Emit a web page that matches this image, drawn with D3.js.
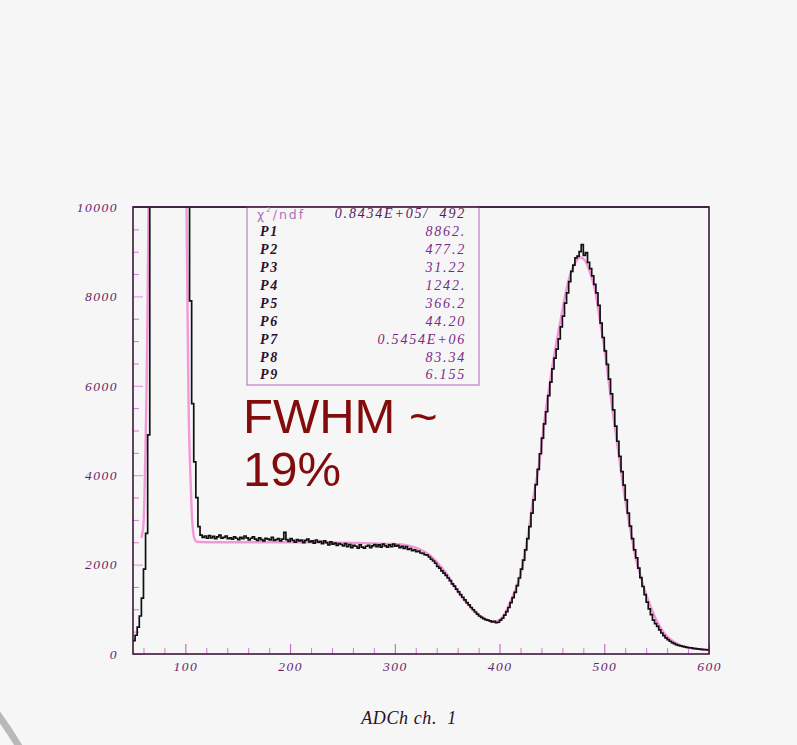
<!DOCTYPE html>
<html>
<head>
<meta charset="utf-8">
<script src="https://cdn.jsdelivr.net/npm/d3@7"></script>
<style>
  body { margin: 0; background: #f6f6f6; }
  svg { display: block; }
</style>
</head>
<body>
<script>
// histogram: 2-channel bins starting at 50, counts (off-scale bins set high, clipped)
const binStart = 50, binWidth = 2;
const counts = [
  300, 420, 600, 850, 1250, 1900, 2700, 4900, 20000, 20000,
  20000, 20000, 20000, 20000, 20000, 20000, 20000, 20000, 20000, 20000,
  20000, 20000, 20000, 20000, 20000, 20000, 20000, 7900, 5600, 4300,
  3500, 2850, 2660, 2610, 2640, 2590, 2650, 2600, 2630, 2580,
  2620, 2660, 2590, 2610, 2640, 2580, 2600, 2570, 2620, 2590,
  2560, 2610, 2580, 2640, 2600, 2550, 2590, 2620, 2570, 2540,
  2600, 2560, 2530, 2590, 2570, 2550, 2610, 2540, 2560, 2580,
  2530, 2570, 2720, 2560, 2520, 2580, 2540, 2500, 2560, 2530,
  2550, 2490, 2540, 2570, 2510, 2530, 2480, 2550, 2500, 2520,
  2470, 2530, 2490, 2440, 2510, 2460, 2480, 2430, 2470, 2450,
  2420, 2470, 2400, 2450, 2380, 2430, 2410, 2370, 2440, 2390,
  2370, 2410, 2430, 2380, 2420, 2450, 2400, 2440, 2390, 2460,
  2420, 2390, 2440, 2400, 2460, 2410, 2430, 2380, 2410, 2360,
  2400, 2340, 2360, 2310, 2330, 2290, 2300, 2260, 2250, 2220,
  2210, 2170, 2120, 2080, 2030, 1960, 1920, 1860, 1810, 1760,
  1700, 1640, 1570, 1520, 1450, 1390, 1330, 1270, 1210, 1150,
  1100, 1040, 990, 940, 890, 850, 820, 790, 770, 760,
  740, 720, 730, 700, 710, 760, 800, 870, 950, 1040,
  1150, 1260, 1380, 1530, 1700, 1900, 2100, 2330, 2580, 2850,
  3150, 3450, 3790, 4130, 4480, 4830, 5150, 5420, 5780, 6080,
  6380, 6620, 6820, 7050, 7320, 7560, 7850, 8080, 8330, 8560,
  8700, 8860, 8900, 9000, 9160, 8920, 8980, 8760, 8620, 8460,
  8270, 8080, 7800, 7400, 7080, 6780, 6480, 6150, 5820, 5460,
  5100, 4760, 4420, 4080, 3780, 3450, 3150, 2860, 2580, 2330,
  2150, 1920, 1710, 1510, 1330, 1160, 1010, 880, 760, 680,
  620, 540, 470, 410, 360, 320, 285, 255, 230, 210,
  195, 180, 170, 160, 150, 140, 135, 125, 120, 115,
  110, 105, 100, 95, 90
];

// fit curve (null = gap where it is off scale)
const fitChan = [58, 60, 61, 62, 63, 64, 65, 66, null,
  100, 101, 102, 103, 104.5, 106, 107.6, 109, 111, 120, 200, 240, 270, 300, 315, 325, 334, 343, 350, 356,
  362, 372, 381, 388, 394, 400, 405, 410, 415, 420, 426, 432, 439, 443, 448, 453, 458, 462, 467, 472,
  477, 482, 486, 491, 496, 501, 505, 510, 515, 520, 525, 530, 534, 539, 544, 549, 553, 558, 563, 568,
  572, 582, 591, 600];
const fitVal = [2600, 2900, 3600, 4700, 6000, 8000, 10500, 14000, null,
  14000, 10300, 7900, 5700, 4200, 3220, 2700, 2560, 2510, 2500, 2500, 2495, 2480, 2460, 2410, 2330, 2200, 1980, 1780, 1550,
  1330, 1060, 850, 760, 720, 760, 900, 1150, 1420, 1780, 2480, 3450, 4450, 5250, 6050, 6800, 7430, 7950, 8450, 8750,
  8870, 8790, 8560, 8150, 7450, 6700, 5950, 5100, 4250, 3450, 2780, 2150, 1800, 1400, 1080, 800, 620, 450, 330, 250,
  200, 140, 110, 95];

const xMajor = [100, 200, 300, 400, 500, 600];
const yMajor = [0, 2000, 4000, 6000, 8000, 10000];

const statNames = ["P1", "P2", "P3", "P4", "P5", "P6", "P7", "P8", "P9"];
const statValues = ["8862.", "477.2", "31.22", "1242.", "366.2", "44.20", "0.5454E+06", "83.34", "6.155"];

const W = 797, H = 745;
const svg = d3.select("body").append("svg").attr("width", W).attr("height", H);

const x = d3.scaleLinear().domain([50, 600]).range([133, 709]);
const y = d3.scaleLinear().domain([0, 10000]).range([654, 207]);

const serif = "'Liberation Serif', 'DejaVu Serif', serif";
const tickCol = "#d47ad4";

svg.append("defs").append("clipPath").attr("id", "plot")
  .append("rect").attr("x", 133).attr("y", 207).attr("width", 576).attr("height", 447);

// grey arc in the corner of the slide
svg.append("path")
  .attr("d", "M -4 712 Q 8 728 20 748")
  .attr("fill", "none").attr("stroke", "#b9b9b9").attr("stroke-width", 7);

// minor ticks
const xMinorAxis = d3.axisBottom(x)
  .tickValues(d3.range(60, 600, 20).filter(d => d % 100 !== 0))
  .tickSize(-6).tickFormat("");
svg.append("g").attr("transform", "translate(0,654)").call(xMinorAxis)
  .call(g => g.select(".domain").remove())
  .selectAll("line").attr("stroke", tickCol);

const yMinorAxis = d3.axisLeft(y)
  .tickValues(d3.range(500, 10000, 500).filter(d => d % 2000 !== 0))
  .tickSize(-6).tickFormat("");
svg.append("g").attr("transform", "translate(133,0)").call(yMinorAxis)
  .call(g => g.select(".domain").remove())
  .selectAll("line").attr("stroke", tickCol);

// major ticks with labels
const xAxis = d3.axisBottom(x).tickValues(xMajor).tickSize(-10).tickPadding(7).tickFormat(d3.format("d"));
svg.append("g").attr("transform", "translate(0,654)").call(xAxis)
  .call(g => g.select(".domain").remove())
  .call(g => g.selectAll("line").attr("stroke", "#b85cb8"))
  .call(g => g.selectAll("text")
    .attr("font-family", serif).attr("font-style", "italic")
    .attr("font-size", 13.5).attr("letter-spacing", 1.5).attr("fill", "#6a1f6a"));

const yAxis = d3.axisLeft(y).tickValues(yMajor).tickSize(-10).tickPadding(15).tickFormat(d3.format("d"));
svg.append("g").attr("transform", "translate(133,0)").call(yAxis)
  .call(g => g.select(".domain").remove())
  .call(g => g.selectAll("line").attr("stroke", "#e08ae0"))
  .call(g => g.selectAll("text")
    .attr("font-family", serif).attr("font-style", "italic")
    .attr("font-size", 13.5).attr("letter-spacing", 1.5).attr("fill", "#6a1f6a"));

// fit curve
const fitPts = fitChan.map((c, i) => [c, fitVal[i]]);
const fitLine = d3.line()
  .defined(d => d[0] !== null)
  .x(d => x(d[0])).y(d => y(d[1]))
  .curve(d3.curveMonotoneX);
svg.append("path")
  .attr("clip-path", "url(#plot)")
  .attr("d", fitLine(fitPts))
  .attr("fill", "none").attr("stroke", "#f497d8").attr("stroke-width", 2.4);

// histogram, drawn as steps
const histPts = counts.map((c, i) => [binStart + i * binWidth, c]);
histPts.push([binStart + counts.length * binWidth, counts[counts.length - 1]]);
const histLine = d3.line()
  .x(d => x(d[0])).y(d => y(d[1]))
  .curve(d3.curveStepAfter);
svg.append("path")
  .attr("clip-path", "url(#plot)")
  .attr("d", histLine(histPts))
  .attr("fill", "none").attr("stroke", "#111").attr("stroke-width", 1.7);

// frame
svg.append("rect")
  .attr("x", 133).attr("y", 207).attr("width", 576).attr("height", 447)
  .attr("fill", "none").attr("stroke", "#3a1a3a").attr("stroke-width", 1.6);

// stats box
svg.append("rect")
  .attr("x", 247).attr("y", 207).attr("width", 232).attr("height", 178)
  .attr("fill", "#f6f6f6").attr("stroke", "#c585cc").attr("stroke-width", 1.3);
svg.append("line")
  .attr("x1", 133).attr("x2", 709).attr("y1", 207).attr("y2", 207)
  .attr("stroke", "#3a1a3a").attr("stroke-width", 1.6);

const chi = svg.append("text")
  .attr("x", 257).attr("y", 215).attr("dominant-baseline", "middle")
  .attr("font-family", "'DejaVu Sans', sans-serif").attr("font-size", 12.5)
  .attr("letter-spacing", 2).attr("fill", "#b070c0");
chi.append("tspan").text("χ");
chi.append("tspan").attr("font-size", 7).attr("dy", -5).text("2");
chi.append("tspan").attr("dy", 5).text("/ndf");

svg.append("text")
  .attr("x", 466).attr("y", 215).attr("dominant-baseline", "middle")
  .attr("text-anchor", "end").attr("xml:space", "preserve")
  .attr("font-family", serif).attr("font-style", "italic").attr("font-size", 14)
  .attr("letter-spacing", 1.8)
  .attr("fill", "#5a1a5a").text("0.8434E+05/  492");

const rows = svg.append("g").selectAll("g")
  .data(statNames)
  .enter().append("g")
  .attr("transform", (d, i) => "translate(0," + (233 + i * 17.9) + ")");
rows.append("text")
  .attr("x", 260).attr("dominant-baseline", "middle")
  .attr("font-family", serif).attr("font-style", "italic").attr("font-weight", "bold")
  .attr("font-size", 14).attr("letter-spacing", 1.8).attr("fill", "#2a102a")
  .text(d => d);
rows.append("text")
  .attr("x", 466).attr("dominant-baseline", "middle").attr("text-anchor", "end")
  .attr("font-family", serif).attr("font-style", "italic")
  .attr("font-size", 14).attr("letter-spacing", 1.8).attr("fill", "#7a2a88")
  .text((d, i) => statValues[i]);

// FWHM note
svg.append("text")
  .attr("x", 243).attr("y", 433)
  .attr("font-family", "'Liberation Sans', Arial, sans-serif").attr("font-size", 49)
  .attr("fill", "#820c0c").text("FWHM ~");
svg.append("text")
  .attr("x", 243).attr("y", 486)
  .attr("font-family", "'Liberation Sans', Arial, sans-serif").attr("font-size", 49)
  .attr("fill", "#820c0c").text("19%");

// x axis title
svg.append("text")
  .attr("x", 409).attr("y", 724).attr("text-anchor", "middle")
  .attr("xml:space", "preserve")
  .attr("font-family", serif).attr("font-style", "italic").attr("font-size", 18)
  .attr("letter-spacing", 0.6)
  .attr("fill", "#2a102a").text("ADCh ch.  1");
</script>
</body>
</html>
